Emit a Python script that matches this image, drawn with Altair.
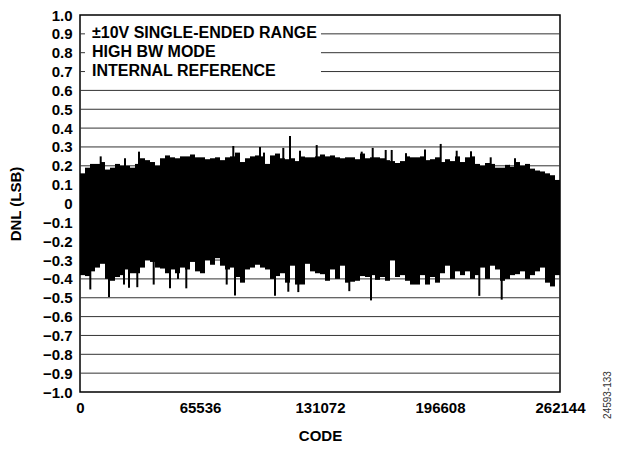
import altair as alt
import pandas as pd

# ---------------- data ----------------
CODE_MAX = 262144
N_BINS = 96
x_ticks = [0, 65536, 131072, 196608, 262144]
y_ticks = [-1.0, -0.9, -0.8, -0.7, -0.6, -0.5, -0.4, -0.3, -0.2, -0.1, 0.0,
           0.1, 0.2, 0.3, 0.4, 0.5, 0.6, 0.7, 0.8, 0.9, 1.0]

# upper envelope of the DNL band, per code bin (LSB)
dnl_upper = [0.16, 0.19, 0.21, 0.21, 0.22, 0.18, 0.19, 0.21, 0.20, 0.20,
             0.19, 0.21, 0.24, 0.23, 0.22, 0.20, 0.24, 0.255, 0.245, 0.24,
             0.25, 0.25, 0.26, 0.245, 0.245,
             0.235, 0.24, 0.245, 0.23, 0.245, 0.25, 0.27, 0.22, 0.24, 0.25,
             0.255, 0.25, 0.21, 0.255, 0.265, 0.24, 0.235, 0.24, 0.225, 0.25,
             0.245, 0.245, 0.25, 0.26,
             0.25, 0.255, 0.245, 0.24, 0.245, 0.245, 0.235, 0.265, 0.24, 0.245,
             0.245, 0.24, 0.23, 0.225, 0.215, 0.225, 0.25, 0.245, 0.245, 0.25,
             0.23, 0.235, 0.245, 0.22,
             0.235, 0.225, 0.25, 0.22, 0.245, 0.25, 0.21, 0.20, 0.215, 0.21,
             0.19, 0.19, 0.205, 0.195, 0.22, 0.20, 0.21, 0.185, 0.175, 0.17,
             0.16, 0.15, 0.125]

# lower envelope of the DNL band, per code bin (LSB)
dnl_lower = [-0.38, -0.385, -0.36, -0.34, -0.32, -0.40, -0.41, -0.39, -0.38, -0.35,
             -0.37, -0.37, -0.34, -0.30, -0.31, -0.34, -0.345, -0.37, -0.35, -0.37,
             -0.34, -0.35, -0.31, -0.36, -0.37,
             -0.30, -0.325, -0.29, -0.33, -0.35, -0.34, -0.39, -0.42, -0.35, -0.34,
             -0.325, -0.34, -0.35, -0.40, -0.385, -0.37, -0.42, -0.33, -0.43, -0.43,
             -0.32, -0.36, -0.37, -0.375,
             -0.41, -0.35, -0.40, -0.33, -0.42, -0.415, -0.41, -0.385, -0.39, -0.38,
             -0.405, -0.39, -0.41, -0.30, -0.39, -0.38, -0.41, -0.43, -0.43, -0.38,
             -0.43, -0.39, -0.42, -0.37,
             -0.33, -0.40, -0.36, -0.38, -0.36, -0.40, -0.38, -0.34, -0.40, -0.33,
             -0.35, -0.41, -0.40, -0.38, -0.375, -0.36, -0.40, -0.38, -0.36, -0.34,
             -0.42, -0.44, -0.38]

# isolated DNL spikes (code, LSB)
spike_codes = [11300, 24576, 32222, 83722, 98304, 100488, 111028, 114688, 120149,
               129269, 153845, 159853, 166952, 170229, 178039, 188416, 196989,
               205727, 213537, 224296, 237568,
               5625, 15838, 24030, 26760, 31293, 40250, 49152, 53521, 58053,
               80117, 84650, 106496, 113759, 119220, 147073, 158924, 218070, 230303]
spike_values = [0.25, 0.24, 0.275, 0.305, 0.30, 0.27, 0.295, 0.358, 0.28,
                0.31, 0.275, 0.295, 0.284, 0.284, 0.267, 0.286, 0.316,
                0.28, 0.277, 0.245, 0.24,
                -0.456, -0.496, -0.43, -0.447, -0.444, -0.43, -0.45, -0.40, -0.45,
                -0.43, -0.488, -0.49, -0.468, -0.47, -0.465, -0.514, -0.49, -0.51]

notes = ["\u00b110V SINGLE-ENDED RANGE", "HIGH BW MODE", "INTERNAL REFERENCE"]
note_rows = [0.9, 0.8, 0.7]
note_code = 6554
grid_rows = [v for v in y_ticks if -1.0 < v < 1.0]
gap_from = 2730
gap_to = 131618
figure_id = "24593-133"

# ---------------- tables ----------------
bw = CODE_MAX / N_BINS
band = pd.DataFrame({
    "x0": [i * bw for i in range(N_BINS)],
    "x1": [(i + 1) * bw for i in range(N_BINS)],
    "lo": dnl_lower,
    "hi": dnl_upper,
})
spikes = pd.DataFrame({"code": spike_codes, "dnl": spike_values, "base": 0.0})

seg = []
for v in grid_rows:
    if any(abs(v - r) < 1e-9 for r in note_rows):
        seg.append({"y": v, "x0": 0, "x1": gap_from})
        seg.append({"y": v, "x0": gap_to, "x1": CODE_MAX})
    else:
        seg.append({"y": v, "x0": 0, "x1": CODE_MAX})
grid = pd.DataFrame(seg)
notes_df = pd.DataFrame({"code": [note_code] * 3, "y": note_rows, "t": notes})

FONT = "Liberation Sans"
xs = alt.Scale(domain=[0, CODE_MAX], nice=False, zero=False)
ys = alt.Scale(domain=[-1.0, 1.0], nice=False)

x_axis = alt.Axis(values=x_ticks, format="d", title="CODE", grid=False, ticks=False,
                  domain=False, labelFont=FONT, labelFontWeight="bold", labelFontSize=15,
                  labelColor="black", labelPadding=8, titleFont=FONT, titleFontWeight="bold",
                  titleFontSize=15, titleColor="black", titlePadding=13, labelFlush=False,
                  labelOverlap=False)
y_axis = alt.Axis(values=y_ticks, title="DNL (LSB)", grid=False, ticks=False, domain=False,
                  labelExpr="datum.value == 0 ? '0' : format(datum.value, '.1f')",
                  labelFont=FONT, labelFontWeight="bold", labelFontSize=15,
                  labelColor="black", labelPadding=8, titleFont=FONT, titleFontWeight="bold",
                  titleFontSize=15, titleColor="black", titlePadding=19,
                  labelOverlap=False, labelFlush=False, labelBound=False)


def X(field):
    return alt.X(field, scale=xs, axis=x_axis, title="CODE")


def Y(field):
    return alt.Y(field, scale=ys, axis=y_axis, title="DNL (LSB)")


grid_layer = alt.Chart(grid).mark_rule(color="#333333", strokeWidth=1).encode(
    x=X("x0:Q"), x2="x1:Q", y=Y("y:Q"),
)

band_layer = alt.Chart(band).mark_rect(color="black").encode(
    x=X("x0:Q"), x2="x1:Q", y=Y("lo:Q"), y2="hi:Q",
)

spike_layer = alt.Chart(spikes).mark_rule(color="black", strokeWidth=2).encode(
    x=X("code:Q"), y=Y("base:Q"), y2="dnl:Q",
)

note_layer = alt.Chart(notes_df).mark_text(
    align="left", baseline="alphabetic", dy=4, font=FONT, fontWeight="bold",
    fontSize=16, color="black"
).encode(x=X("code:Q"), y=Y("y:Q"), text="t:N")

id_layer = alt.Chart(pd.DataFrame({"t": [figure_id]})).mark_text(
    angle=270, font=FONT, fontSize=10, color="#333333", align="center", baseline="middle"
).encode(x=alt.value(528), y=alt.value(380), text="t:N")

chart = alt.layer(grid_layer, band_layer, spike_layer, note_layer, id_layer).properties(
    width=480, height=377,
    autosize=alt.AutoSizeParams(type="none"),
    padding={"left": 72, "top": 7, "right": 59, "bottom": 57},
).configure_view(stroke="black", strokeWidth=1.5).configure_axis(labelOverlap=False)

chart.save("out.html", embed_options={"renderer": "svg", "actions": False})
